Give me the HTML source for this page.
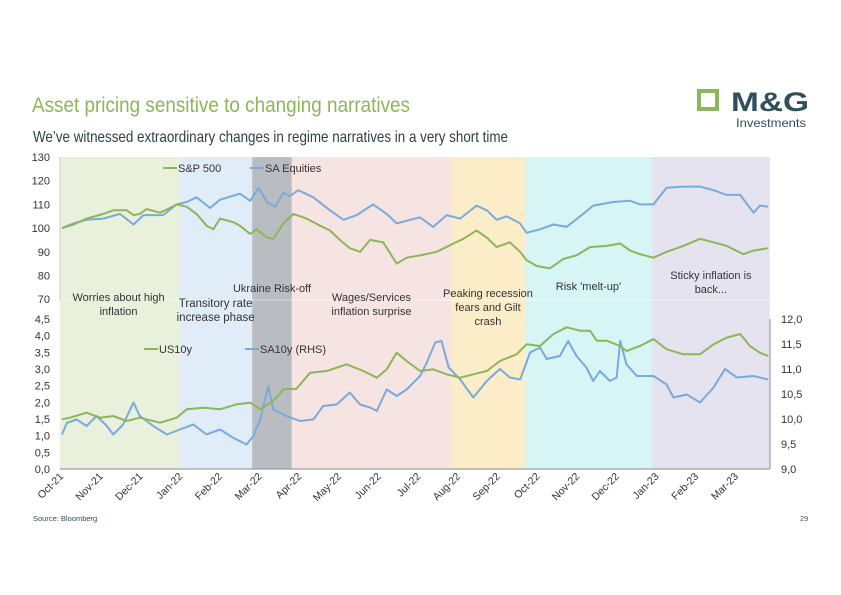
<!DOCTYPE html>
<html><head><meta charset="utf-8"><style>
html,body{margin:0;padding:0;background:#fff;}
svg{display:block;font-family:"Liberation Sans",sans-serif;}
</style></head><body>
<svg id="chart" width="841" height="595" viewBox="0 0 841 595" xmlns="http://www.w3.org/2000/svg">
<text x="32" y="112" font-size="21" fill="#8db55a" textLength="378" lengthAdjust="spacingAndGlyphs">Asset pricing sensitive to changing narratives</text>
<text x="33" y="142" font-size="16" fill="#2f3f45" textLength="475" lengthAdjust="spacingAndGlyphs">We’ve witnessed extraordinary changes in regime narratives in a very short time</text>
<g>
<rect x="699" y="91" width="18" height="18" fill="none" stroke="#8db55a" stroke-width="4"/>
<text x="731" y="111" font-size="27" font-weight="bold" fill="#2f4f5a" textLength="78" lengthAdjust="spacingAndGlyphs">M&amp;G</text>
<text x="736" y="127" font-size="11.5" fill="#2f4f5a" textLength="70" lengthAdjust="spacingAndGlyphs">Investments</text>
</g>
<g id="bands"></g><g id="axes"></g><g id="series"></g><g id="labels"></g>
<text x="33" y="521" font-size="7.5" fill="#2f4f5a">Source: Bloomberg</text>
<text x="800" y="521" font-size="7.5" fill="#555">29</text>
</svg>
<script>
const monthLabels=["Oct-21","Nov-21","Dec-21","Jan-22","Feb-22","Mar-22","Apr-22","May-22","Jun-22","Jul-22","Aug-22","Sep-22","Oct-22","Nov-22","Dec-22","Jan-23","Feb-23","Mar-23"];
const topTicks=[130,120,110,100,90,80,70];
const botTicks=[4.5,4,3.5,3,2.5,2,1.5,1,0.5,0];
const rhsTicks=[12,11.5,11,10.5,10,9.5,9];
const bandStarts=[-0.05,2.95,4.79,5.79,9.80,11.66,14.86];
const bandEnds=[2.95,4.79,5.79,9.80,11.66,14.86,17.83];
const bandNames=["Worries about high|inflation","Transitory rate|increase phase","Ukraine Risk-off","Wages/Services|inflation surprise","Peaking recession|fears and Gilt|crash","Risk 'melt-up'","Sticky inflation is|back..."];
const spxT=[0,0.29,0.62,1.04,1.29,1.63,1.80,1.96,2.13,2.47,2.72,2.89,3.14,3.39,3.64,3.81,3.98,4.32,4.48,4.74,4.90,5.16,5.32,5.58,5.83,6.16,6.50,6.75,7.00,7.25,7.51,7.76,8.09,8.43,8.68,9.02,9.44,9.86,10.11,10.44,10.70,10.95,11.28,11.54,11.70,11.96,12.29,12.63,12.96,13.30,13.72,14.06,14.31,14.56,14.90,15.23,15.65,16.07,16.41,16.74,17.16,17.42,17.79];
const spxV=[100,101.5,104,106,107.5,107.5,105.5,106,108,106.5,108.5,110,109,106,101,99.5,104,102.5,101,97.5,99.5,96,95.5,102,106,104,101,99,95,91.5,90,95,94,85,87.5,88.5,90,93.5,95.5,99,96,92,94,90,86.5,84,83,87,88.5,92,92.5,93.5,90.5,89,87.5,90,92.5,95.5,94,92.5,89,90.5,91.5];
const saeT=[0,0.29,0.62,1.04,1.46,1.80,2.05,2.55,2.89,3.14,3.39,3.73,3.98,4.48,4.74,4.95,5.16,5.37,5.58,5.74,5.95,6.33,6.75,7.09,7.42,7.84,8.18,8.43,8.77,9.02,9.35,9.69,10.03,10.44,10.70,10.95,11.20,11.54,11.70,12.04,12.38,12.71,13.05,13.38,13.89,14.31,14.56,14.90,15.23,15.65,16.07,16.41,16.74,17.08,17.42,17.58,17.79];
const saeV=[100,102,103.5,104,106,101.5,105.5,105.5,110,111,113,108.5,112,114.5,111.5,117,111,109,115,113.5,116,113,107.5,103.5,105.5,110,106,102,103.5,104.5,100.5,105.5,104,109.5,107.5,103.5,105,102,98,99.5,101.5,100.5,105,109.5,111,111.5,110,110,117,117.5,117.5,116,114,114,106.5,109.5,109];
const usT=[0,0.2,0.62,0.96,1.29,1.63,1.96,2.47,2.89,3.14,3.56,3.98,4.40,4.74,4.99,5.32,5.58,5.91,6.25,6.67,7.17,7.59,7.93,8.18,8.43,8.68,9.02,9.35,9.69,10.03,10.36,10.70,11.03,11.45,11.70,12.04,12.38,12.71,13.05,13.30,13.47,13.72,14.06,14.22,14.56,14.90,15.23,15.65,16.07,16.41,16.74,17.08,17.33,17.58,17.79];
const usV=[1.49,1.54,1.69,1.54,1.59,1.44,1.54,1.39,1.54,1.79,1.84,1.79,1.94,1.99,1.79,2.04,2.39,2.41,2.89,2.94,3.14,2.94,2.74,2.99,3.49,3.24,2.94,2.99,2.84,2.74,2.84,2.94,3.24,3.44,3.74,3.69,4.05,4.25,4.15,4.15,3.85,3.85,3.69,3.54,3.69,3.90,3.59,3.44,3.44,3.74,3.94,4.05,3.69,3.49,3.39];
const saT=[0,0.12,0.37,0.62,0.87,1.13,1.29,1.54,1.80,1.96,2.30,2.64,2.97,3.31,3.64,3.98,4.32,4.65,4.82,4.99,5.20,5.32,5.66,5.99,6.33,6.58,6.92,7.25,7.51,7.76,7.93,8.18,8.43,8.68,9.02,9.19,9.40,9.56,9.74,10.03,10.36,10.70,11.03,11.28,11.54,11.79,12.04,12.21,12.54,12.75,12.96,13.21,13.38,13.55,13.80,13.97,14.06,14.22,14.48,14.90,15.23,15.40,15.74,16.07,16.41,16.70,17.00,17.42,17.79];
const saV=[9.69,9.92,9.99,9.86,10.06,9.86,9.69,9.89,10.33,10.06,9.86,9.69,9.79,9.89,9.69,9.79,9.62,9.49,9.66,9.99,10.66,10.19,10.06,9.96,9.99,10.26,10.29,10.53,10.29,10.23,10.16,10.59,10.46,10.59,10.86,11.13,11.53,11.56,11.03,10.79,10.43,10.76,11.00,10.83,10.79,11.33,11.43,11.20,11.26,11.56,11.26,11.03,10.76,10.96,10.76,10.83,11.56,11.09,10.86,10.86,10.69,10.43,10.49,10.33,10.63,11.00,10.83,10.86,10.79];

const NS="http://www.w3.org/2000/svg";
const X0=62,MW=39.7;
const xS=m=>X0+m*MW;
const yTop=v=>157+(130-v)*2.37;
const yBot=v=>469-v*33.33;
const yRhs=v=>469-(v-9)*50;
function mk(tag,parent,attrs){const e=document.createElementNS(NS,tag);for(const k in attrs)e.setAttribute(k,attrs[k]);parent.appendChild(e);return e;}
const fmt=v=>v.toFixed(1).replace('.',',');
const bandColors=["#e9f0dc","#e0ecf8","#b9bdc1","#f6e4e2","#fcedc9","#d6f5f4","#e6e3f0"];
const bandLabelY=[301,307,292,301,297,290,279];
const gB=document.getElementById('bands');
bandStarts.forEach((s,i)=>{
  const x1=Math.max(60,xS(s)),x2=xS(bandEnds[i]);
  const r=mk('rect',gB,{x:x1,y:157,width:x2-x1,height:312,fill:bandColors[i]});
  
  
});
mk('line',gB,{x1:60,y1:300,x2:770,y2:300,stroke:'#ffffff','stroke-opacity':0.5,'stroke-width':1});
const gA=document.getElementById('axes');
mk('line',gA,{x1:60,y1:157,x2:60,y2:300,stroke:'#c8ccc8','stroke-width':1});
mk('line',gA,{x1:60,y1:469,x2:770,y2:469,stroke:'#9aa0a4','stroke-width':1.2});
mk('line',gA,{x1:770,y1:319,x2:770,y2:469,stroke:'#9aa0a4','stroke-width':1.2});
topTicks.forEach(v=>{const t=mk('text',gA,{x:50,y:yTop(v)+4,'font-size':11,'text-anchor':'end',fill:'#333'});t.textContent=v;
  
  });
botTicks.forEach(v=>{const t=mk('text',gA,{x:50,y:yBot(v)+4,'font-size':11,'text-anchor':'end',fill:'#333'});t.textContent=fmt(v);
  
  });
rhsTicks.forEach(v=>{const t=mk('text',gA,{x:781,y:yRhs(v)+4,'font-size':11,fill:'#333'});t.textContent=fmt(v);
  
  });
monthLabels.forEach((l,i)=>{const x=xS(i)+2,y=477;
  const t=mk('text',gA,{x:x,y:y,'font-size':10.5,'text-anchor':'end',fill:'#333',transform:`rotate(-45 ${x} ${y})`});t.textContent=l;
  
  });
const gS=document.getElementById('series');
function line(T,V,ys,col,name){const d=T.map((t,i)=>(i?'L':'M')+xS(t).toFixed(1)+','+ys(V[i]).toFixed(1)).join('');
  const p=mk('path',gS,{d:d,fill:'none',stroke:col,'stroke-width':2,'stroke-linejoin':'round'});
  
  }
const G="#8db55a",B="#7aaadc";
line(saeT,saeV,yTop,B,'sa-equities-line');
line(spxT,spxV,yTop,G,'sp500-line');
line(saT,saV,yRhs,B,'sa10y-line');
line(usT,usV,yBot,G,'us10y-line');
const gL=document.getElementById('labels');
function legend(x,y,col,txt){mk('line',gL,{x1:x,y1:y-4,x2:x+14,y2:y-4,stroke:col,'stroke-width':2});
  const t=mk('text',gL,{x:x+15,y:y,'font-size':11,fill:'#333'});t.textContent=txt;
  
  }
legend(163,172,G,'S&P 500');legend(250,172,B,'SA Equities');
legend(144,353,G,'US10y');legend(245,353,B,'SA10y (RHS)');
bandNames.forEach((n,i)=>{const cx=(Math.max(60,xS(bandStarts[i]))+xS(bandEnds[i]))/2+(i==0?-1:0);
  n.split('|').forEach((ln,j)=>{const t=mk('text',gL,{x:cx,y:bandLabelY[i]+j*14,'font-size':i==1?11.5:11,'text-anchor':'middle',fill:'#333'});t.textContent=ln;
    
    });});
</script>
</body></html>
